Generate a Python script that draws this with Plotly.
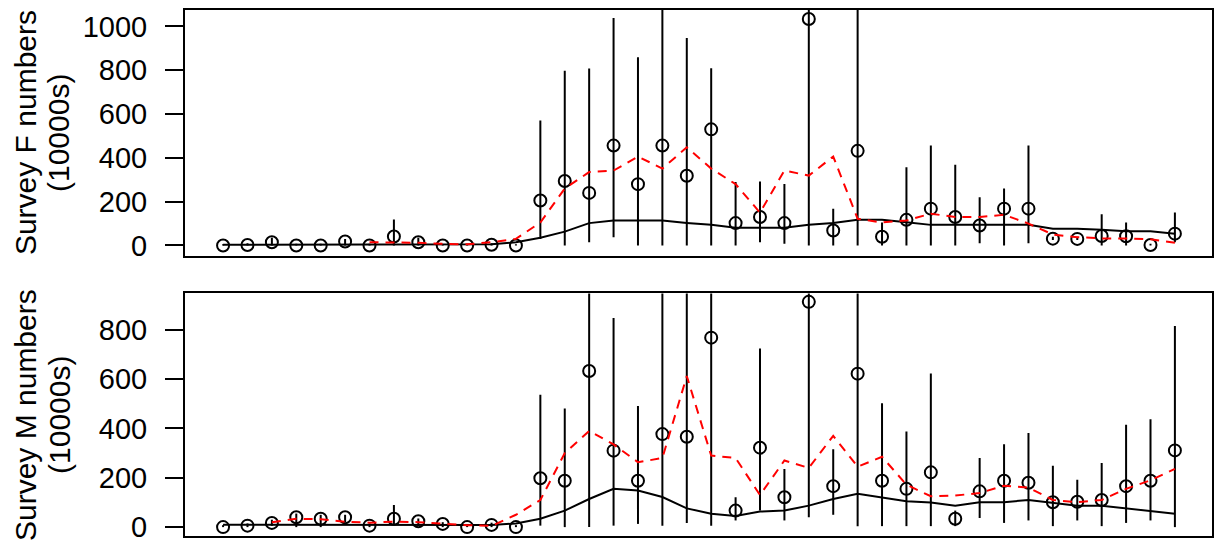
import plotly.graph_objects as go

# ---- data (index of survey year, 40 points) ----
idx = list(range(40))

# Survey F (top panel)
f_obs = [0, 2, 15, 0, 0, 18, 0, 41, 15, 0, 0, 3, 0, 205, 294, 240, 456, 280, 456, 318,
         530, 102, 130, 102, 1034, 68, 432, 40, 117, 168, 130, 91, 168, 168, 31, 30, 43, 42, 2, 54]
f_hi = [6, 10, 35, 8, 8, 30, 8, 119, 35, 6, 6, 10, 6, 570, 798, 808, 1038, 859, 1250, 947,
        809, 290, 292, 281, 1500, 168, 1250, 105, 357, 456, 369, 220, 260, 456, 40, 40, 143, 105, 8, 151]
f_lo = [0, 0, 0, 0, 0, 0, 0, 0, 0, 0, 0, 0, 0, 30, 0, 15, 38, 0, 0, 0,
        0, 0, 15, 8, 0, 0, 0, 0, 0, 0, 0, 10, 0, 10, 25, 25, 0, 0, 0, 15]
f_fit = [3, 3, 3, 3, 3, 3, 3, 3, 3, 3, 3, 5, 15, 35, 63, 102, 114, 114, 114, 103,
         94, 81, 81, 81, 94, 103, 117, 117, 106, 94, 94, 94, 94, 94, 76, 76, 72, 65, 65, 53]
f_alt = [None, None, None, None, None, None, 15, 15, 12, 8, 5, 15, 30, 105, 260, 335, 342, 406, 351, 448,
         351, 280, 150, 342, 319, 406, 122, 105, 114, 145, 130, 130, 140, 100, 50, 38, 32, 32, 28, 12]

# Survey M (bottom panel)
m_obs = [0, 6, 17, 40, 34, 40, 6, 34, 24, 13, 0, 9, 0, 198, 188, 633, 310, 188, 377, 366,
         768, 67, 322, 121, 913, 166, 622, 188, 155, 222, 34, 145, 188, 180, 101, 103, 110, 166, 188, 311]
m_hi = [8, 15, 30, 55, 50, 50, 15, 90, 35, 20, 8, 18, 8, 536, 481, 1100, 848, 491, 1200, 1200,
        1300, 121, 724, 236, 1500, 316, 1200, 502, 388, 623, 67, 280, 336, 381, 249, 192, 260, 415, 437, 815]
m_lo = [0, 0, 5, 0, 0, 20, 0, 10, 5, 0, 0, 0, 0, 6, 0, 0, 6, 13, 6, 17,
        6, 27, 67, 27, 40, 50, 4, 4, 4, 4, 4, 37, 17, 27, 4, 27, 4, 17, 27, 0]
m_fit = [10, 10, 10, 10, 10, 10, 10, 10, 10, 10, 9, 9, 15, 34, 67, 114, 155, 148, 122, 76,
         54, 45, 63, 67, 87, 114, 135, 121, 105, 100, 87, 101, 101, 110, 97, 87, 87, 77, 67, 54]
m_alt = [None, None, 20, 34, 32, 22, 18, 22, 20, 13, 8, 5, 50, 110, 300, 390, 335, 263, 280, 612,
         290, 280, 130, 270, 240, 370, 245, 285, 172, 125, 128, 138, 168, 160, 110, 101, 110, 155, 190, 236]

f_ticks = [0, 200, 400, 600, 800, 1000]
m_ticks = [0, 200, 400, 600, 800]

FONT = "Liberation Sans, Arial, sans-serif"

fig = go.Figure()


def add_panel(obs, hi, lo, fit, alt, xa, ya):
    up = [h - o for h, o in zip(hi, obs)]
    dn = [o - l for o, l in zip(obs, lo)]
    fig.add_trace(go.Scatter(
        x=idx, y=obs, mode="markers", xaxis=xa, yaxis=ya,
        marker=dict(symbol="circle-open", size=12, color="black", line=dict(width=2, color="black")),
        error_y=dict(type="data", array=up, arrayminus=dn, symmetric=False,
                     width=0, thickness=2, color="black"),
        showlegend=False, hoverinfo="skip"))
    fig.add_trace(go.Scatter(
        x=idx, y=fit, mode="lines", xaxis=xa, yaxis=ya,
        line=dict(color="black", width=2), showlegend=False, hoverinfo="skip"))
    fig.add_trace(go.Scatter(
        x=idx, y=alt, mode="lines", xaxis=xa, yaxis=ya,
        line=dict(color="red", width=2, dash="9px,7px"), showlegend=False, hoverinfo="skip"))


add_panel(f_obs, f_hi, f_lo, f_fit, f_alt, "x", "y")
add_panel(m_obs, m_hi, m_lo, m_fit, m_alt, "x2", "y2")

axis_common = dict(showline=True, linewidth=2, linecolor="black", mirror=True,
                   showgrid=False, zeroline=False)
xr = [-1.56, 40.52]
ytick = dict(ticks="outside", ticklen=18, tickwidth=2, tickcolor="black", ticklabelstandoff=12,
             ticklabeloverflow="allow",
             tickfont=dict(size=29, family=FONT, color="black"))

fig.update_layout(
    width=1214, height=543,
    margin=dict(l=185, r=0, t=10, b=6),
    paper_bgcolor="white", plot_bgcolor="white",
    font=dict(family=FONT, color="black"),
    xaxis=dict(domain=[0, 1], range=xr, showticklabels=False, ticks="", anchor="y", **axis_common),
    yaxis=dict(domain=[0.5332, 1], range=[-46, 1075], tickvals=f_ticks, anchor="x",
               **ytick, **axis_common),
    xaxis2=dict(domain=[0, 1], range=xr, showticklabels=False, ticks="", anchor="y2", **axis_common),
    yaxis2=dict(domain=[0, 0.4611], range=[-36, 947], tickvals=m_ticks, anchor="x2",
                **ytick, **axis_common),
)

ann = []
for yc, t1 in [(0.7666, "Survey F numbers"), (0.2306, "Survey M numbers")]:
    ann.append(dict(text=t1, x=(25 - 185) / 1029, y=yc, xref="paper", yref="paper",
                    textangle=-90, showarrow=False, xanchor="center", yanchor="middle",
                    font=dict(size=30, family=FONT, color="black")))
    ann.append(dict(text="(10000s)", x=(59 - 185) / 1029, y=yc, xref="paper", yref="paper",
                    textangle=-90, showarrow=False, xanchor="center", yanchor="middle",
                    font=dict(size=30, family=FONT, color="black")))
fig.update_layout(annotations=ann)

fig.write_html("out.html", config={"displayModeBar": False},
               post_script="document.body.style.margin='0';document.body.style.overflow='hidden';")
